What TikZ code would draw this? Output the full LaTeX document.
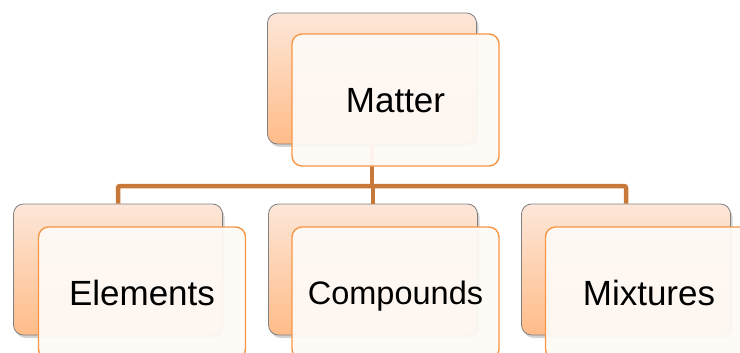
\documentclass[tikz,border=0pt]{standalone}
\usepackage{fontspec}
\setmainfont{Liberation Sans}
\usetikzlibrary{shadows}
\definecolor{peachtop}{RGB}{253,231,217}
\definecolor{peachbot}{RGB}{255,188,136}
\definecolor{boxgray}{RGB}{128,128,128}
\definecolor{boxorange}{RGB}{247,150,70}
\definecolor{frontfill}{RGB}{254,250,246}
\definecolor{linkbrown}{RGB}{200,120,56}

\begin{document}
\begin{tikzpicture}[x=1pt,y=1pt,
    backbox/.style={draw=boxgray,line width=0.8pt,rounded corners=10pt,
        top color=peachtop,bottom color=peachbot,
        minimum width=209pt,minimum height=131pt,
        drop shadow={shadow xshift=2pt,shadow yshift=-3pt,opacity=0.35}},
    frontbox/.style={draw=boxorange,line width=1.4pt,rounded corners=10pt,
        fill=frontfill,fill opacity=0.95,text opacity=1,
        minimum width=207pt,minimum height=132pt,inner sep=0pt,
        text height=25pt,text depth=0pt,
        font=\fontsize{35}{42}\selectfont},
    link/.style={draw=linkbrown,line width=4.5pt,rounded corners=2pt}]
    \clip (0,0) rectangle (740,-353);

    %back boxes
    \node[backbox] (matter back) at (372,-78.5) {};
    \node[backbox] (elements back) at (118,-269.5) {};
    \node[backbox] (compounds back) at (373,-269.5) {};
    \node[backbox] (mixtures back) at (626,-269.5) {};

    %connectors
    \coordinate (bar) at (373,-186);
    \draw[link] (matter back.south) -- (matter back.south |- bar);
    \draw[link] (elements back.north) -- (elements back.north |- bar)
                -- (mixtures back.north |- bar) -- (mixtures back.north);
    \draw[link] (compounds back.north) -- (compounds back.north |- bar);

    %front boxes
    \node[frontbox] (matter) at (395.5,-100) {Matter};
    \node[frontbox] (elements) at (142,-293) {Elements};
    \node[frontbox,text height=23pt,font=\fontsize{32.5}{39}\selectfont] (compounds) at (395.5,-293) {Compounds};
    \node[frontbox] (mixtures) at (649,-293) {Mixtures};
\end{tikzpicture}
\end{document}
